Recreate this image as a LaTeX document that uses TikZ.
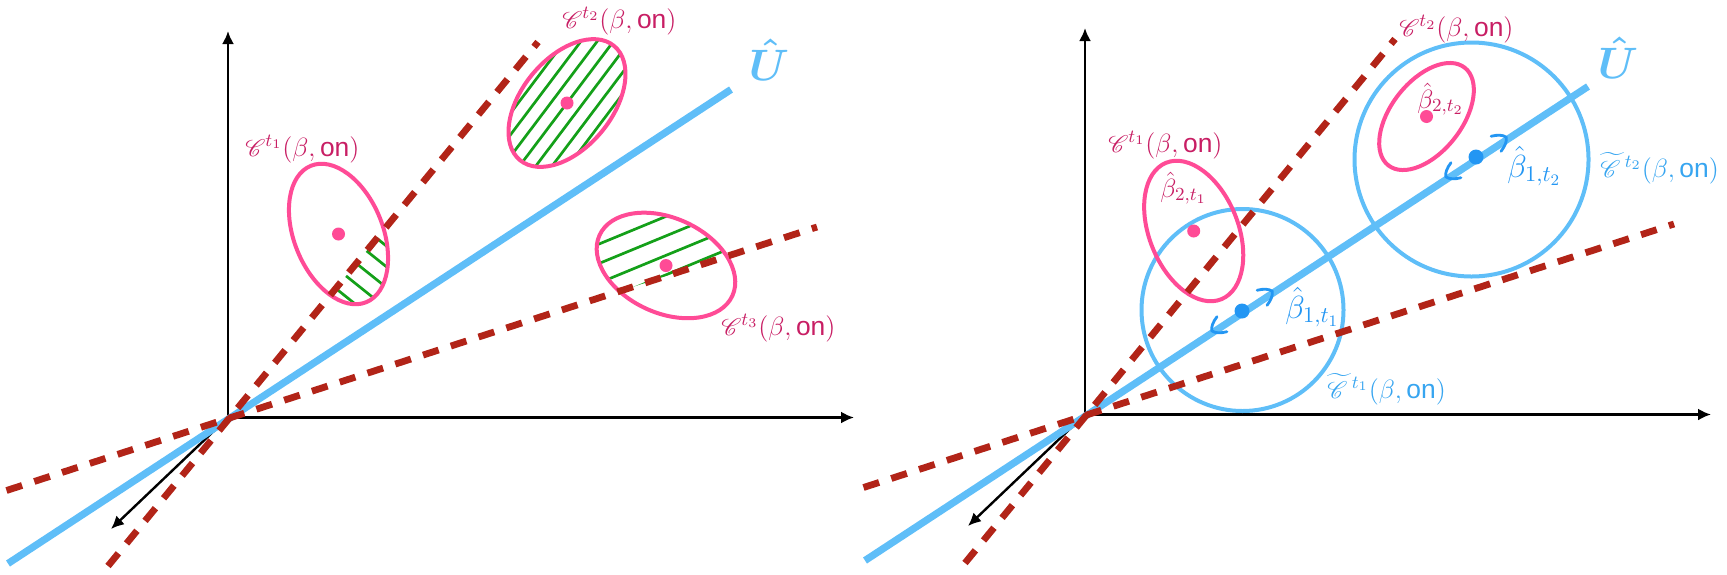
\documentclass[tikz,border=0pt]{standalone}
\usepackage{fix-cm}
\usepackage{amsmath}
\usepackage{mathrsfs}
\usepackage{fontspec}
\newfontfamily\hv{Liberation Sans}
\usetikzlibrary{arrows.meta,calc}
\definecolor{skyb}{RGB}{95,190,248}
\definecolor{dotb}{RGB}{35,150,243}
\definecolor{labb}{RGB}{55,165,240}
\definecolor{dred}{RGB}{178,36,24}
\definecolor{pinkc}{RGB}{255,75,150}
\definecolor{magl}{RGB}{200,30,100}
\definecolor{hgreen}{RGB}{20,160,25}
\newcommand\on{\mbox{\hv on}}
\newcommand\panelcoords[1]{%
  \coordinate (#1O) at (228,417.5);
  \coordinate (#1Y) at (228,31);
  \coordinate (#1X) at (854,417.5);
  \coordinate (#1Z) at (111,529);
  \coordinate (#1Ua) at (8,563.5);
  \coordinate (#1Ub) at (731,89.5);
  \coordinate (#1Sa) at (108,566);
  \coordinate (#1Sb) at (538,42);
  \coordinate (#1Ha) at (6.5,490.5);
  \coordinate (#1Hb) at (817,227);}
\newcommand\chevr[2]{\draw[chev, shift={#1}, rotate=#2] (-12,9) .. controls (-6,7) and (-1,3.5) .. (0,0) .. controls (-1,-3.5) and (-6,-7) .. (-12,-9);}
\begin{document}
\begin{tikzpicture}[x=0.5pt,y=-0.5pt,
  axis/.style={black, line width=1.2pt, -{Latex[length=6.5pt,width=6pt]}},
  uline/.style={skyb, line width=3.6pt},
  dline/.style={dred, line width=3.4pt, dash pattern=on 8.2pt off 6.4pt},
  ell/.style={pinkc, line width=2pt},
  bcirc/.style={skyb, line width=2pt},
  hatch/.style={hgreen, line width=1.35pt},
  pdot/.style={circle, fill=pinkc, inner sep=0pt, minimum size=6.5pt},
  bdot/.style={circle, fill=dotb, inner sep=0pt, minimum size=7.5pt},
  chev/.style={dotb, line width=1.4pt, line cap=round},
  lab/.style={inner sep=0pt, font=\fontsize{13.2}{15}\selectfont},
  blab/.style={inner sep=0pt, font=\fontsize{16}{18}\selectfont, text=dotb},
  ulab/.style={inner sep=0pt, font=\fontsize{22}{24}\selectfont, text=skyb}]
\useasboundingbox (0,0) rectangle (1727,574);
\begin{scope}\panelcoords{L}\end{scope}
\begin{scope}[shift={(857,-3)}]\panelcoords{R}\end{scope}
% centres
\coordinate (E1) at (338.5,234);
\coordinate (E2) at (567,103);
\coordinate (E3) at (666,265.5);
\coordinate (F1) at (1193.7,231);
\coordinate (F2) at (1426.5,116.5);
\coordinate (C1) at (1242.5,310);
\coordinate (C2) at (1471.5,159.5);
\coordinate (D1) at (1242,311);
\coordinate (D2) at (1476,157);
% axes
\foreach \p in {L,R}{
  \draw[axis] (\p O) -- (\p Y);
  \draw[axis] (\p O) -- (\p X);
  \draw[axis] (\p O) -- (\p Z);
  \draw[uline] (\p Ua) -- (\p Ub);
}
% blue circles
\draw[bcirc] (C1) circle[radius=101];
\draw[bcirc] (C2) circle[radius=117];
% hatching
\begin{scope}
  \clip[rotate around={112:(E1)}] (E1) ellipse[x radius=73.6, y radius=44.4];
  \clip (LSa) -- (LSb) -- (938,42) -- (508,566) -- cycle;
  \foreach \d in {-20.6,-4.4,11.8,28,44.2}
    \draw[hatch] ($(E1)+(-0.625*\d,0.78*\d)+(-70.2,-56.25)$) -- ($(E1)+(-0.625*\d,0.78*\d)+(70.2,56.25)$);
\end{scope}
\begin{scope}
  \clip[rotate around={50.5:(E2)}] (E2) ellipse[x radius=74, y radius=45];
  \foreach \d in {-52,-39,...,52}
    \draw[hatch] ($(E2)+(0.799*\d,0.602*\d)+(-54.2,71.9)$) -- ($(E2)+(0.799*\d,0.602*\d)+(54.2,-71.9)$);
\end{scope}
\begin{scope}
  \clip[rotate around={-24.5:(E3)}] (E3) ellipse[x radius=73, y radius=47.5];
  \clip (LHa) -- (LHb) -- (817,0) -- (6.5,0) -- cycle;
  \foreach \d in {26.6,8.6,-9.4,-27.4,-45.4}
    \draw[hatch] ($(E3)+(0.381*\d,0.9245*\d)+(-87.8,36.2)$) -- ($(E3)+(0.381*\d,0.9245*\d)+(87.8,-36.2)$);
\end{scope}
% pink ellipses
\draw[ell, rotate around={112:(E1)}] (E1) ellipse[x radius=73.6, y radius=44.4];
\draw[ell, rotate around={50.5:(E2)}] (E2) ellipse[x radius=74, y radius=45];
\draw[ell, rotate around={-24.5:(E3)}] (E3) ellipse[x radius=73, y radius=47.5];
\draw[ell, rotate around={112:(F1)}] (F1) ellipse[x radius=73.6, y radius=44.4];
\draw[ell, rotate around={52:(F2)}] (F2) ellipse[x radius=62, y radius=35.5];
% dashed lines
\foreach \p in {L,R}{
  \draw[dline] (\p Sa) -- (\p Sb);
  \draw[dline] (\p Ha) -- (\p Hb);
}
% dots
\node[pdot] (pe1) at (E1) {};
\node[pdot] (pe2) at (E2) {};
\node[pdot] (pe3) at (E3) {};
\node[pdot] (pf1) at (F1) {};
\node[pdot] (pf2) at (F2) {};
\node[bdot] (bd1) at (D1) {};
\node[bdot] (bd2) at (D2) {};
% chevrons
\chevr{($(D1)+(30.1,-19.8)$)}{33.3}
\chevr{($(D1)+(-30.1,19.8)$)}{213.3}
\chevr{($(D2)+(30.1,-19.8)$)}{33.3}
\chevr{($(D2)+(-30.1,19.8)$)}{213.3}
% labels left
\node[lab, text=magl, anchor=base west] (l1) at (245,156) {$\mathscr{C}^{t_1}(\beta,\on)$};
\node[lab, text=magl, anchor=base west] (l2) at (562,28) {$\mathscr{C}^{t_2}(\beta,\on)$};
\node[lab, text=magl, anchor=base west] (l3) at (721,335) {$\mathscr{C}^{t_3}(\beta,\on)$};
\node[ulab, anchor=base] (ul) at (769,80) {$\boldsymbol{\hat{U}}$};
% labels right
\node[lab, text=magl, anchor=base west] (r1) at (1108,152) {$\mathscr{C}^{t_1}(\beta,\on)$};
\node[lab, text=magl, anchor=base west] (r2) at (1399,36.5) {$\mathscr{C}^{t_2}(\beta,\on)$};
\node[ulab, anchor=base] (ur) at (1618,78) {$\boldsymbol{\hat{U}}$};
\node[lab, text=labb, anchor=base west] (t1) at (1327,398) {${\widetilde{\mathscr{C}\mkern3mu}}{}^{t_1}(\beta,\on)$};
\node[lab, text=labb, anchor=base west] (t2) at (1600,177) {${\widetilde{\mathscr{C}\mkern3mu}}{}^{t_2}(\beta,\on)$};
\node[blab, anchor=base west] (b11) at (1285,318) {$\hat{\beta}_{1,t_1}$};
\node[blab, anchor=base west] (b12) at (1507,177) {$\hat{\beta}_{1,t_2}$};
\node[lab, text=magl, anchor=base west] (b21) at (1160,197) {$\hat{\beta}_{2,t_1}$};
\node[lab, text=magl, anchor=base west] (b22) at (1417,108) {$\hat{\beta}_{2,t_2}$};
\end{tikzpicture}
\end{document}
